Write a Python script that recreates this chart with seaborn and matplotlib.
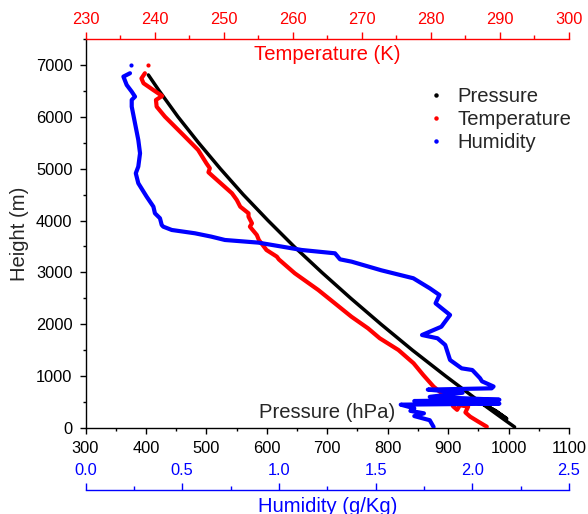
import matplotlib
matplotlib.use('Agg')
import matplotlib.pyplot as plt
import seaborn as sns
import pandas as pd
from matplotlib.lines import Line2D
from matplotlib.ticker import MultipleLocator

# ---------------- data ----------------
pressure_height = [19, 160, 320, 480, 330, 180, 340, 500, 1000, 1500, 2000, 2500,
                   3000, 3500, 4000, 4500, 5000, 5500, 6000, 6500, 6807]
pressure_hpa = [1010, 993, 974, 955, 979, 997, 977, 953, 896, 841, 789, 739,
                691, 645, 602, 561, 523, 487, 453, 422, 404]

temp_height = [25, 120, 218, 300, 411, 440, 350, 420, 520, 604, 700, 797, 1022, 1248,
               1504, 1730, 1922, 2146, 2404, 2661, 2983, 3250, 3304, 3432, 3625, 3722,
               3882, 3947, 4075, 4140, 4268, 4397, 4526, 4846, 4930, 5008, 5104, 5361,
               5617, 6003, 6196, 6325, 6402, 6518, 6647, 6740, 6840]
temp_k = [288.1, 286.9, 285.7, 285.0, 285.4, 284.2, 283.8, 283.2, 283.0, 282.3, 281.3,
          280.4, 278.9, 277.5, 275.3, 272.6, 270.9, 268.5, 266.1, 263.7, 260.3, 258.0,
          257.7, 256.2, 255.1, 254.8, 253.8, 254.1, 253.6, 253.6, 252.4, 251.9, 251.2,
          248.5, 247.8, 248.0, 247.5, 246.3, 244.4, 241.5, 240.3, 240.2, 241.1, 239.8,
          238.4, 238.1, 238.6]

hum_height = [20, 150, 230, 283, 330, 380, 450, 470, 520, 545, 600, 680, 740, 765, 800,
              900, 960, 1118, 1150, 1311, 1601, 1730, 1793, 1953, 2179, 2404, 2565, 2694,
              2887, 3040, 3207, 3252, 3368, 3432, 3574, 3625, 3690, 3754, 3818, 3882,
              3915, 4044, 4140, 4268, 4461, 4719, 4911, 5040, 5297, 5554, 5875, 6196,
              6325, 6389, 6485, 6614, 6775, 6840]
hum_gkg = [1.80, 1.78, 1.70, 1.75, 1.68, 1.70, 1.63, 2.14, 1.70, 2.14, 1.78, 1.95, 1.77,
           2.10, 2.11, 2.05, 2.04, 2.00, 1.945, 1.885, 1.86, 1.82, 1.74, 1.84, 1.885,
           1.81, 1.83, 1.78, 1.695, 1.53, 1.376, 1.316, 1.29, 1.118, 0.894, 0.721, 0.65,
           0.566, 0.446, 0.402, 0.394, 0.385, 0.359, 0.351, 0.316, 0.273, 0.260, 0.273,
           0.282, 0.273, 0.256, 0.239, 0.239, 0.256, 0.239, 0.213, 0.196, 0.230]

top_height = [7000]
top_temp = [239.0]
top_hum = [0.234]

pressure_ticks = [300, 400, 500, 600, 700, 800, 900, 1000, 1100]
temp_ticks = [230, 240, 250, 260, 270, 280, 290, 300]
hum_ticks = [0.0, 0.5, 1.0, 1.5, 2.0, 2.5]
height_ticks = [0, 1000, 2000, 3000, 4000, 5000, 6000, 7000]

# ---------------- style ----------------
sns.set_style('ticks')
plt.rcParams['font.family'] = ['Liberation Sans', 'DejaVu Sans']

W, H = 588, 514
PX = 72 / 100  # points per pixel
fig = plt.figure(figsize=(W / 100, H / 100), dpi=100)
left, right, bottom, top = 85.5, 569, 428, 39
ax = fig.add_axes([left / W, 1 - bottom / H, (right - left) / W, (bottom - top) / H])

RED = '#ff0000'
BLUE = '#0000ff'
TICK_FS = 11.8
LAB_FS = 14.6

df_p = pd.DataFrame({'p': pressure_hpa, 'h': pressure_height})
df_t = pd.DataFrame({'t': temp_k, 'h': temp_height})
df_q = pd.DataFrame({'q': hum_gkg, 'h': hum_height})

# pressure (main axes)
sns.lineplot(data=df_p, x='p', y='h', sort=False, estimator=None, color='black',
             lw=2.5, ax=ax)

# temperature (top axis)
ax_t = ax.twiny()
sns.lineplot(data=df_t, x='t', y='h', sort=False, estimator=None, color=RED,
             lw=3.0, ax=ax_t)
sns.scatterplot(x=top_temp, y=top_height, color=RED, s=9, linewidth=0, ax=ax_t)

# humidity (offset bottom axis)
ax_h = ax.twiny()
sns.lineplot(data=df_q, x='q', y='h', sort=False, estimator=None, color=BLUE,
             lw=3.0, ax=ax_h)
sns.scatterplot(x=top_hum, y=top_height, color=BLUE, s=9, linewidth=0, ax=ax_h)

# ---------------- axes setup ----------------
ax.set_xlim(300, 1100)
ax_t.set_xlim(230, 300)
ax_h.set_xlim(0, 2.5)
for a in (ax, ax_t, ax_h):
    a.set_ylim(0, 7500)

# main axes
ax.spines['top'].set_visible(False)
ax.spines['right'].set_visible(False)
ax.set_xticks(pressure_ticks)
ax.set_xticklabels([str(v) for v in pressure_ticks])
ax.xaxis.set_minor_locator(MultipleLocator(50))
ax.set_yticks(height_ticks)
ax.set_yticklabels([str(v) for v in height_ticks])
ax.yaxis.set_minor_locator(MultipleLocator(500))
ax.tick_params(axis='x', which='major', direction='out', length=4.2, width=1,
               labelsize=TICK_FS, pad=5.0, colors='black')
ax.tick_params(axis='x', which='minor', direction='out', length=2.4, width=1, colors='black')
ax.tick_params(axis='y', which='major', direction='out', length=4.3, width=1,
               labelsize=TICK_FS, pad=5.0, colors='black')
ax.tick_params(axis='y', which='minor', direction='out', length=2.4, width=1, colors='black')
for s in ('left', 'bottom'):
    ax.spines[s].set_color('black')
    ax.spines[s].set_linewidth(1)

ax.set_xlabel('Pressure (hPa)', fontsize=LAB_FS)
ax.xaxis.set_label_coords(0.5, (bottom - 412) / (bottom - top))
ax.xaxis.label.set_va('center')
ax.set_ylabel('Height (m)', fontsize=LAB_FS)
ax.yaxis.set_label_coords((20 - left) / (right - left), 0.5)
ax.yaxis.label.set_va('center')

# temperature axis
for s in ('bottom', 'left', 'right'):
    ax_t.spines[s].set_visible(False)
ax_t.spines['top'].set_color(RED)
ax_t.spines['top'].set_linewidth(1)
ax_t.set_xticks(temp_ticks)
ax_t.set_xticklabels([str(v) for v in temp_ticks])
ax_t.xaxis.set_minor_locator(MultipleLocator(5))
ax_t.tick_params(axis='x', which='major', direction='out', length=5, width=1,
                 labelsize=TICK_FS, pad=4.0, colors=RED)
ax_t.tick_params(axis='x', which='minor', direction='out', length=2.8, width=1, colors=RED)
ax_t.set_xlabel('Temperature (K)', fontsize=LAB_FS, color=RED)
ax_t.xaxis.set_label_coords(0.5, (bottom - 54) / (bottom - top))
ax_t.xaxis.label.set_va('center')

# humidity axis (spine 62 px below the main axes)
ax_h.xaxis.set_ticks_position('bottom')
ax_h.xaxis.set_label_position('bottom')
for s in ('top', 'left', 'right'):
    ax_h.spines[s].set_visible(False)
ax_h.spines['bottom'].set_visible(True)
ax_h.spines['bottom'].set_position(('outward', 62 * PX))
ax_h.spines['bottom'].set_color(BLUE)
ax_h.spines['bottom'].set_linewidth(1)
ax_h.set_xticks(hum_ticks)
ax_h.set_xticklabels([f'{v:.1f}' for v in hum_ticks])
ax_h.xaxis.set_minor_locator(MultipleLocator(0.25))
ax_h.tick_params(axis='x', which='major', direction='in', length=5, width=1,
                 labelsize=TICK_FS, pad=-19.6, colors=BLUE)
ax_h.tick_params(axis='x', which='minor', direction='in', length=2.8, width=1, colors=BLUE)
ax_h.set_xlabel('Humidity (g/Kg)', fontsize=LAB_FS, color=BLUE)
ax_h.xaxis.set_label_coords(0.5, (bottom - 507) / (bottom - top))
ax_h.xaxis.label.set_va('center')

# legend
handles = [Line2D([], [], marker='o', markersize=2.2, linestyle='none', color=c)
           for c in ('black', RED, BLUE)]
fig.legend(handles, ['Pressure', 'Temperature', 'Humidity'], loc='upper left',
           bbox_to_anchor=(426 / W, 1 - 87 / H), bbox_transform=fig.transFigure,
           frameon=False, fontsize=LAB_FS, handlelength=1.0, handletextpad=0.55,
           labelspacing=0.2, borderpad=0, borderaxespad=0)

fig.savefig('out.png', dpi=100)
